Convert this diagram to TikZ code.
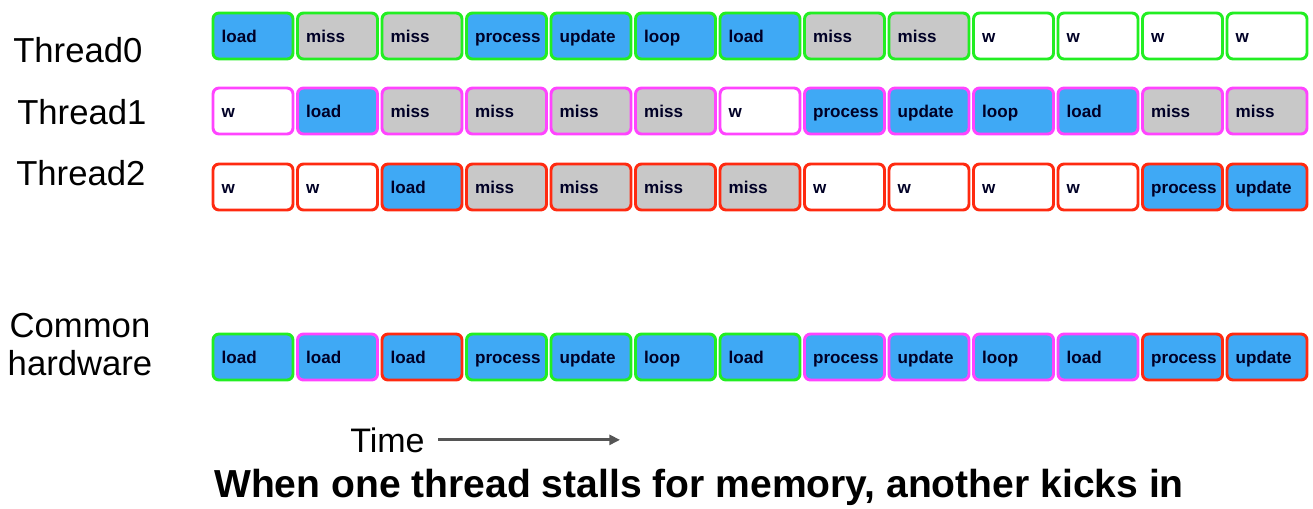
\documentclass[tikz,border=0pt]{standalone}
\usepackage{fontspec}
\setmainfont{Liberation Sans}
\usetikzlibrary{arrows.meta}
\definecolor{busy}{HTML}{3FA9F5}
\definecolor{stall}{HTML}{C8C8C8}
\definecolor{thr0}{HTML}{22EE22}
\definecolor{thr1}{HTML}{FF44FF}
\definecolor{thr2}{HTML}{FF2A10}
\definecolor{arrowgray}{HTML}{555555}
\tikzset{
  slot/.style={draw, rounded corners=4.5pt, line width=2.2pt, minimum height=34.5pt,
    text width=47pt, inner xsep=6.5pt, align=left, text=black!85!blue,
    text height=1em, text depth=0.1em,
    font=\bfseries\fontsize{12.8}{14}\selectfont},
  k-load/.style={fill=busy}, k-process/.style={fill=busy},
  k-update/.style={fill=busy}, k-loop/.style={fill=busy},
  k-miss/.style={fill=stall}, k-w/.style={fill=white},
  thr/.style={inner sep=0pt, font=\fontsize{26}{28.5}\selectfont}
}
\begin{document}
\begin{tikzpicture}[x=0.75pt,y=-0.75pt]
\useasboundingbox (0,0) rectangle (1313,508);

\node[thr, anchor=base west] (lab0) at (13,62) {Thread0};
\node[thr, anchor=base west] (lab1) at (17,124) {Thread1};
\node[thr, anchor=base west] (lab2) at (16,185) {Thread2};
\node[thr, align=center] (labhw) at (80,345) {Common\\hardware};

\foreach \lbl [count=\i] in {load,miss,miss,process,update,loop,load,miss,miss,w,w,w,w}
  \node[slot, k-\lbl, draw=thr0] (t0-\i) at ({253+(\i-1)*84.5},36) {\lbl};
\foreach \lbl [count=\i] in {w,load,miss,miss,miss,miss,w,process,update,loop,load,miss,miss}
  \node[slot, k-\lbl, draw=thr1] (t1-\i) at ({253+(\i-1)*84.5},111) {\lbl};
\foreach \lbl [count=\i] in {w,w,load,miss,miss,miss,miss,w,w,w,w,process,update}
  \node[slot, k-\lbl, draw=thr2] (t2-\i) at ({253+(\i-1)*84.5},187) {\lbl};

% shared pipeline, border shows which thread issued the slot
\foreach \lbl/\who [count=\i] in {load/0,load/1,load/2,process/0,update/0,loop/0,load/0,
    process/1,update/1,loop/1,load/1,process/2,update/2}
  \node[slot, k-\lbl, draw=thr\who] (hw-\i) at ({253+(\i-1)*84.5},357) {\lbl};

\node[inner sep=0pt, anchor=base west, font=\fontsize{25.5}{28}\selectfont] (time) at (350,452) {Time};
\coordinate (tend) at (620,438);
\draw[arrowgray, line width=2.2pt, -{Triangle[length=8pt,width=7.5pt]}]
  ([xshift=10pt]time.east) -- (time.east -| tend);

\node[inner sep=0pt, anchor=base, font=\bfseries\fontsize{29.3}{32}\selectfont] (caption) at (699,497)
  {When one thread stalls for memory, another kicks in};
\end{tikzpicture}
\end{document}
